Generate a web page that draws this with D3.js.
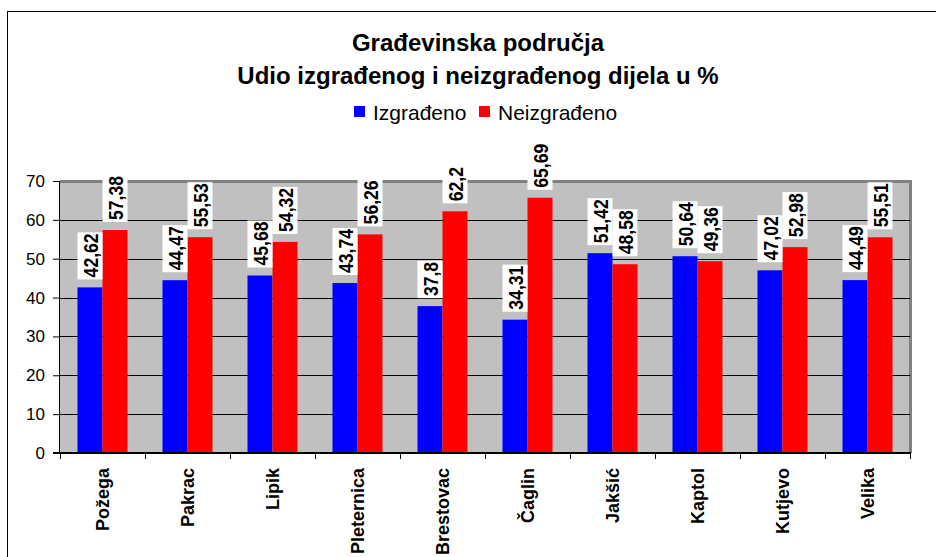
<!DOCTYPE html>
<html>
<head>
<meta charset="utf-8">
<script src="https://cdn.jsdelivr.net/npm/d3@7"></script>
<style>
  body { margin: 0; background: #fff; }
  text { font-family: "Liberation Sans", Arial, sans-serif; }
</style>
</head>
<body>
<script>
var svg_width = 936;
var svg_height = 557;

// data
var places = ["Požega", "Pakrac", "Lipik", "Pleternica", "Brestovac", "Čaglin", "Jakšić", "Kaptol", "Kutjevo", "Velika"];
var izgradjeno = [42.62, 44.47, 45.68, 43.74, 37.8, 34.31, 51.42, 50.64, 47.02, 44.49];
var neizgradjeno = [57.38, 55.53, 54.32, 56.26, 62.2, 65.69, 48.58, 49.36, 52.98, 55.51];
var yTicks = [0, 10, 20, 30, 40, 50, 60, 70];
var seriesNames = ["Izgrađeno", "Neizgrađeno"];
var colors = ["#0000ff", "#ff0000"];

var margin = { top: 181, left: 60 };
var width = 850;
var height = 272;

var svg = d3.select("body")
  .append("svg")
  .attr("width", svg_width)
  .attr("height", svg_height);

// outer chart border
svg.append("rect")
  .attr("x", 7.5).attr("y", 11.5)
  .attr("width", 940).attr("height", 560)
  .attr("fill", "none").attr("stroke", "#000").attr("stroke-width", 1);

// title
svg.append("text")
  .attr("x", 478).attr("y", 51)
  .attr("text-anchor", "middle")
  .style("font-size", "24px").style("font-weight", "bold")
  .text("Građevinska područja");
svg.append("text")
  .attr("x", 478).attr("y", 84)
  .attr("text-anchor", "middle")
  .style("font-size", "24px").style("font-weight", "bold")
  .text("Udio izgrađenog i neizgrađenog dijela u %");

// legend
var legendX = [354, 479];
seriesNames.forEach(function(name, i) {
  svg.append("rect")
    .attr("x", legendX[i]).attr("y", 106)
    .attr("width", 11).attr("height", 11)
    .attr("fill", colors[i]);
  svg.append("text")
    .attr("x", legendX[i] + 19).attr("y", 120)
    .style("font-size", "21px")
    .text(name);
});

var chartGroup = svg.append("g")
  .attr("transform", `translate(${margin.left}, ${margin.top})`);

var x0 = d3.scaleBand().domain(places).range([0, width]).paddingInner(0).paddingOuter(0);
var x1 = d3.scaleBand().domain([0, 1]).range([17.5, x0.bandwidth() - 17.5]);
var y = d3.scaleLinear().domain([0, 70]).range([height, 0]);

// plot background
chartGroup.append("rect")
  .attr("width", width).attr("height", height)
  .attr("fill", "#c0c0c0");

// plot frame top/right (gray)
chartGroup.append("path")
  .attr("d", `M0,0.5H${width + 0.5}V${height}`)
  .attr("fill", "none").attr("stroke", "#808080").attr("stroke-width", 3);

// gridlines
chartGroup.selectAll(".grid")
  .data(yTicks.slice(1, -1))
  .enter().append("line")
  .attr("x1", 0).attr("x2", width)
  .attr("y1", d => Math.round(y(d)) + 0.5)
  .attr("y2", d => Math.round(y(d)) + 0.5)
  .attr("stroke", "#000").attr("stroke-width", 1);

var rows = places.map(function(p, i) {
  return { place: p, values: [izgradjeno[i], neizgradjeno[i]] };
});

var groups = chartGroup.selectAll(".grp")
  .data(rows)
  .enter().append("g")
  .attr("transform", d => `translate(${x0(d.place)},0)`);

groups.selectAll("rect")
  .data(d => d.values.map((v, i) => ({ v: v, i: i })))
  .enter().append("rect")
  .attr("x", d => x1(d.i))
  .attr("width", x1.bandwidth())
  .attr("y", d => y(d.v))
  .attr("height", d => height - y(d.v))
  .attr("fill", d => colors[d.i]);

// value labels (rotated, on white boxes)
var labels = groups.selectAll(".lbl")
  .data(d => d.values.map((v, i) => ({ v: v, i: i })))
  .enter().append("g")
  .attr("transform", d => `translate(${x1(d.i) + x1.bandwidth() / 2}, ${y(d.v) - 8}) rotate(-90)`);

labels.each(function(d) {
  var g = d3.select(this);
  var txt = g.append("text")
    .attr("transform", "translate(2,7.5) scale(0.88,1)")
    .style("font-size", "20px").style("font-weight", "bold")
    .text(String(d.v).replace(".", ","));
  var w = txt.node().getComputedTextLength() * 0.88;
  g.insert("rect", "text")
    .attr("x", 0).attr("y", -12.5)
    .attr("width", w + 3).attr("height", 25)
    .attr("fill", "#fff");
});

// axes
var leftAxis = d3.axisLeft(y).tickValues(yTicks).tickSize(7).tickPadding(8);
var yAxisG = chartGroup.append("g").call(leftAxis);
yAxisG.select(".domain").attr("stroke", "#000").attr("d", `M-0.5,0V${height + 0.5}`);
yAxisG.selectAll("text").style("font-size", "17px").attr("fill", "#000")
  .style("font-family", "'Liberation Sans', Arial, sans-serif");

var bottomAxis = d3.axisBottom(x0).tickSize(0).tickFormat("");
var xAxisG = chartGroup.append("g")
  .attr("transform", `translate(0, ${height})`)
  .call(bottomAxis);
xAxisG.select(".domain").attr("stroke", "#000").attr("stroke-width", 2).attr("d", `M-7,0H${width + 1}`);

// category separator ticks
chartGroup.selectAll(".ctick")
  .data(places.concat(["end"]))
  .enter().append("line")
  .attr("x1", (d, i) => i * x0.step() + 0.5)
  .attr("x2", (d, i) => i * x0.step() + 0.5)
  .attr("y1", height).attr("y2", height + 6)
  .attr("stroke", "#000");

// category labels
chartGroup.selectAll(".clabel")
  .data(places)
  .enter().append("text")
  .attr("transform", d => `translate(${x0(d) + x0.bandwidth() / 2 + 6}, ${height + 15}) rotate(-90)`)
  .attr("text-anchor", "end")
  .style("font-size", "18px").style("font-weight", "bold")
  .text(d => d);
</script>
</body>
</html>
